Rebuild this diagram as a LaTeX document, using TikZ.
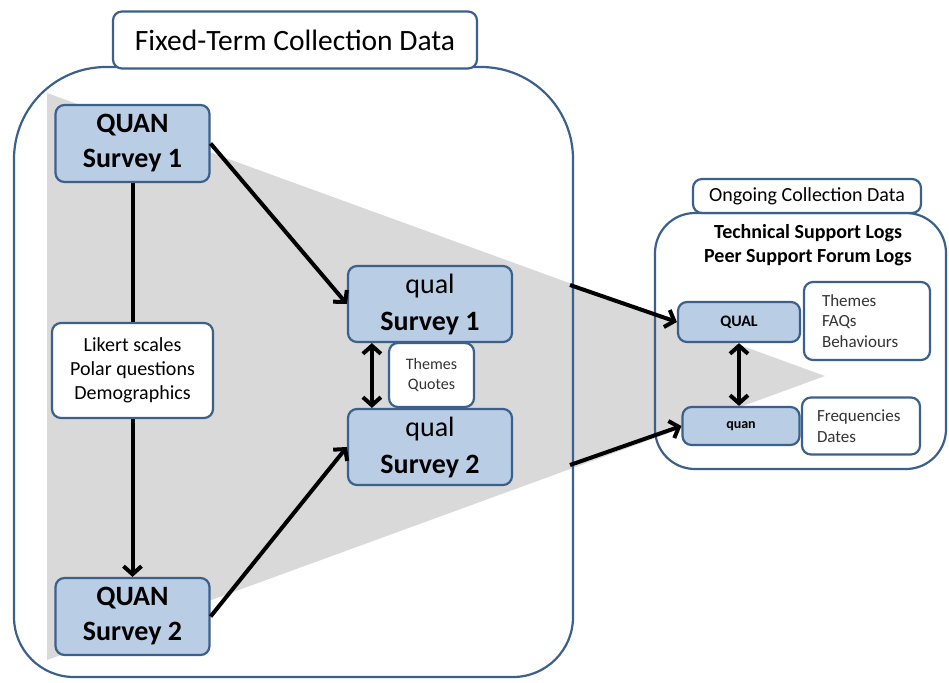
\documentclass[tikz,border=0pt]{standalone}
\usepackage{fontspec}
\setmainfont{Carlito}
\usetikzlibrary{arrows.meta}
\definecolor{mmblue}{RGB}{185,205,229}
\definecolor{mmedge}{RGB}{60,96,140}
\definecolor{mmgray}{RGB}{217,217,217}
\newcommand{\fs}[2]{\fontsize{#1}{#2}\selectfont}

\begin{document}
\begin{tikzpicture}[x=1pt, y=-1pt,
  frame/.style={draw=mmedge, line width=2.2pt},
  stage/.style={draw=mmedge, fill=mmblue, line width=2.2pt, rounded corners=9pt, align=center, inner sep=0pt},
  tag/.style={draw=mmedge, fill=white, line width=2.2pt, rounded corners=9pt, align=center, inner sep=0pt},
  memo/.style={tag, align=left, text=black!80, font=\fs{17}{20.5}},
  flow/.style={line width=4pt, -{Straight Barb[length=8pt,width=18pt]}},
  both/.style={line width=4pt, {Straight Barb[length=8pt,width=18pt]}-{Straight Barb[length=8pt,width=18pt]}}]
  \useasboundingbox (0,0) rectangle (949,682);
  \fill[mmgray] (47,93) -- (47,660) -- (825,376) -- cycle;
  \draw[frame] (14,400) [rounded corners=92pt] -- (14,67) -- (573,67) -- (573,400)
    [rounded corners=60pt] -- (573,677) -- (14,677) -- cycle;
  \draw[frame, rounded corners=40pt] (655,213) rectangle (946,469);

  \node[tag, minimum width=364pt, minimum height=57pt, font=\fs{29.5}{34}] (fixed) at (295,40) {Fixed-Term Collection Data};
  \node[tag, minimum width=228pt, minimum height=34pt, font=\fs{20}{24}] (ongoing) at (807,196) {Ongoing Collection Data};
  \node[font=\bfseries\fs{20}{24}, align=center] (logs) at (808,245) {Technical Support Logs\\Peer Support Forum Logs};

  \node[stage, minimum width=154pt, minimum height=77pt, font=\bfseries\fs{28}{35}] (qs1) at (132.5,143.5) {QUAN\\Survey 1};
  \node[tag, minimum width=161pt, minimum height=95pt, font=\fs{20}{24}] (likert) at (132.5,370.5) {Likert scales\\Polar questions\\Demographics};
  \node[stage, minimum width=154pt, minimum height=77pt, font=\bfseries\fs{28}{35}] (qs2) at (132.5,616.5) {QUAN\\Survey 2};

  \node[stage, minimum width=164pt, minimum height=76pt, font=\fs{28}{37}] (ql1) at (430,304) {qual\\\textbf{Survey 1}};
  \node[tag, minimum width=85pt, minimum height=64pt, text=black!80, font=\fs{16}{20}] (tq) at (431.5,375) {Themes\\Quotes};
  \node[stage, minimum width=164pt, minimum height=76pt, font=\fs{28}{37}] (ql2) at (430,447) {qual\\\textbf{Survey 2}};

  \node[stage, minimum width=122pt, minimum height=40pt, font=\bfseries\fs{16}{20}] (qualR) at (739,322) {QUAL};
  \node[memo, minimum width=126pt, minimum height=78pt, text width=90pt, inner xsep=18pt] (tfb) at (867,321) {Themes\\FAQs\\Behaviours};
  \node[stage, minimum width=117pt, minimum height=38pt, font=\bfseries\fs{14}{18}] (quanR) at (741,426) {quan};
  \node[memo, minimum width=118pt, minimum height=57pt, text width=88pt, inner xsep=15pt] (fd) at (861,426) {Frequencies\\Dates};

  \coordinate (outA) at (570,285);
  \coordinate (outB) at (570,465);

  \draw[line width=4pt] (qs1) -- (likert);
  \draw[flow] (likert) -- (qs2);
  \draw[flow] (qs1.east) -- (ql1.west);
  \draw[flow] (qs2.east) -- (ql2.west);
  \draw[both] ([xshift=25pt]ql1.south west) -- ([xshift=25pt]ql2.north west);
  \draw[flow] (outA) -- (qualR.west);
  \draw[flow] (outB) -- (quanR.west);
  \draw[both] (qualR.south) -- (qualR.south |- quanR.north);
\end{tikzpicture}
\end{document}
